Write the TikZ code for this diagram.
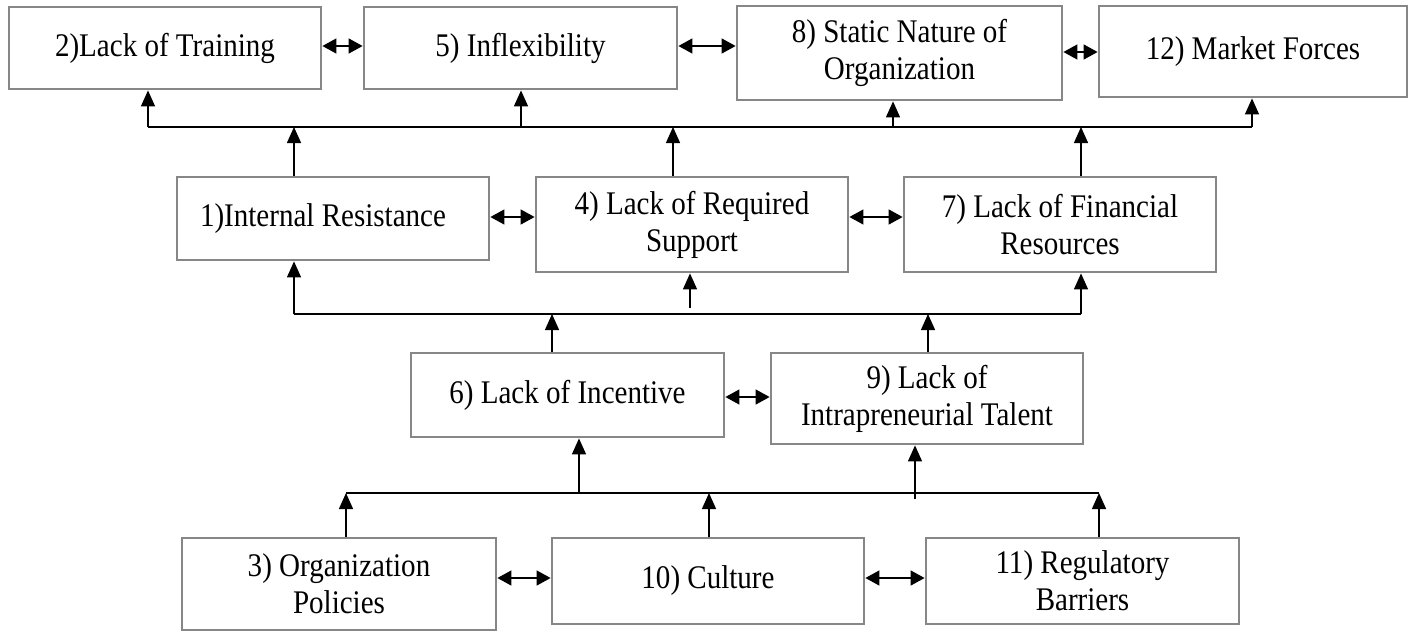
\documentclass[tikz,border=0pt]{standalone}
\usepackage{fontspec}
\setmainfont{Liberation Serif}[FakeStretch=0.88]
\usetikzlibrary{arrows.meta}
\definecolor{boxgray}{RGB}{135,135,135}
\begin{document}
\begin{tikzpicture}[x=1pt,y=-1pt,
  box/.style={draw=boxgray, line width=2.8pt, align=center, inner sep=0pt,
              font=\fontsize{33}{37}\selectfont},
  conn/.style={line width=1.4pt, black},
  arr/.style={conn, -{Triangle[length=16pt,width=14pt]}},
  dbl/.style={conn, {Triangle[length=14pt,width=15pt]}-{Triangle[length=14pt,width=15pt]}}]
\useasboundingbox (0,0) rectangle (1420,632);

% top row
\node[box, minimum width=312pt, minimum height=82pt] (b2)  at (165,48)     {2)Lack of Training};
\node[box, minimum width=313pt, minimum height=82pt] (b5)  at (520.5,48)   {5) Inflexibility};
\node[box, minimum width=325pt, minimum height=94pt] (b8)  at (899.5,53)   {8) Static Nature of\\Organization};
\node[box, minimum width=308pt, minimum height=91pt] (b12) at (1253,51.5)  {12) Market Forces};
% second row
\node[box, minimum width=312pt, minimum height=83pt] (b1)  at (333,218.5)  {\hspace*{-20pt}1)Internal Resistance};
\node[box, minimum width=312pt, minimum height=95pt] (b4)  at (692,224.5)  {4) Lack of Required\\Support};
\node[box, minimum width=312pt, minimum height=95pt] (b7)  at (1060,224.5) {7) Lack of Financial\\Resources};
% third row
\node[box, minimum width=313pt, minimum height=84pt] (b6)  at (567.5,395)  {6) Lack of Incentive};
\node[box, minimum width=312pt, minimum height=91pt] (b9)  at (927,398.5)  {9) Lack of\\Intrapreneurial Talent};
% bottom row
\node[box, minimum width=314pt, minimum height=92pt] (b3)  at (339,584)    {3) Organization\\Policies};
\node[box, minimum width=312pt, minimum height=86pt] (b10) at (708,581)    {10) Culture};
\node[box, minimum width=313pt, minimum height=86pt] (b11) at (1082.5,581) {11) Regulatory\\Barriers};

% junction points on the buses
\coordinate (tb2) at (148,127);  \coordinate (tb5) at (521,127);
\coordinate (tb8) at (893,127);  \coordinate (tb12) at (1252,127);
\coordinate (tm1) at (294,127);  \coordinate (tm4) at (673,127);
\coordinate (tm7) at (1081,127);
\coordinate (mb1) at (294,314);  \coordinate (mb4) at (690,308);
\coordinate (mb7) at (1081,314);
\coordinate (m6) at (552,314);   \coordinate (m9) at (928,314);
\coordinate (lb3) at (346,493);  \coordinate (lb10) at (709,493);
\coordinate (lb11) at (1099,493);
\coordinate (l6) at (579,493);   \coordinate (l9) at (915,499);

% upper bus
\draw[conn] (tb2) -- (tb12);
\draw[arr] (tb2) -- (tb2 |- b2.south);
\draw[arr] (tb5) -- (tb5 |- b5.south);
\draw[arr] (tb8) -- (tb8 |- b8.south);
\draw[arr] (tb12) -- (tb12 |- b12.south);
\draw[arr] (b1.north -| tm1) -- (tm1);
\draw[arr] (b4.north -| tm4) -- (tm4);
\draw[arr] (b7.north -| tm7) -- (tm7);

% middle bus
\draw[conn] (mb1) -- (mb7);
\draw[arr] (mb1) -- (mb1 |- b1.south);
\draw[arr] (mb4) -- (mb4 |- b4.south);
\draw[arr] (mb7) -- (mb7 |- b7.south);
\draw[arr] (b6.north -| m6) -- (m6);
\draw[arr] (b9.north -| m9) -- (m9);

% lower bus
\draw[conn] (lb3) -- (lb11);
\draw[arr] (l6) -- (l6 |- b6.south);
\draw[arr] (l9) -- (l9 |- b9.south);
\draw[arr] (b3.north -| lb3) -- (lb3);
\draw[arr] (b10.north -| lb10) -- (lb10);
\draw[arr] (b11.north -| lb11) -- (lb11);

% two-way links inside each row
\draw[dbl] ([yshift=2pt]b2.east) -- ([yshift=2pt]b2.east -| b5.west);
\draw[dbl] ([yshift=2pt]b5.east) -- ([yshift=2pt]b5.east -| b8.west);
\draw[dbl] ([yshift=1pt]b8.east) -- ([yshift=1pt]b8.east -| b12.west);
\draw[dbl] ([yshift=1.5pt]b1.east) -- ([yshift=1.5pt]b1.east -| b4.west);
\draw[dbl] ([yshift=7.5pt]b4.east) -- ([yshift=7.5pt]b4.east -| b7.west);
\draw[dbl] ([yshift=-2pt]b6.east) -- ([yshift=-2pt]b6.east -| b9.west);
\draw[dbl] ([yshift=6pt]b3.east) -- ([yshift=6pt]b3.east -| b10.west);
\draw[dbl] ([yshift=3pt]b10.east) -- ([yshift=3pt]b10.east -| b11.west);
\end{tikzpicture}
\end{document}
